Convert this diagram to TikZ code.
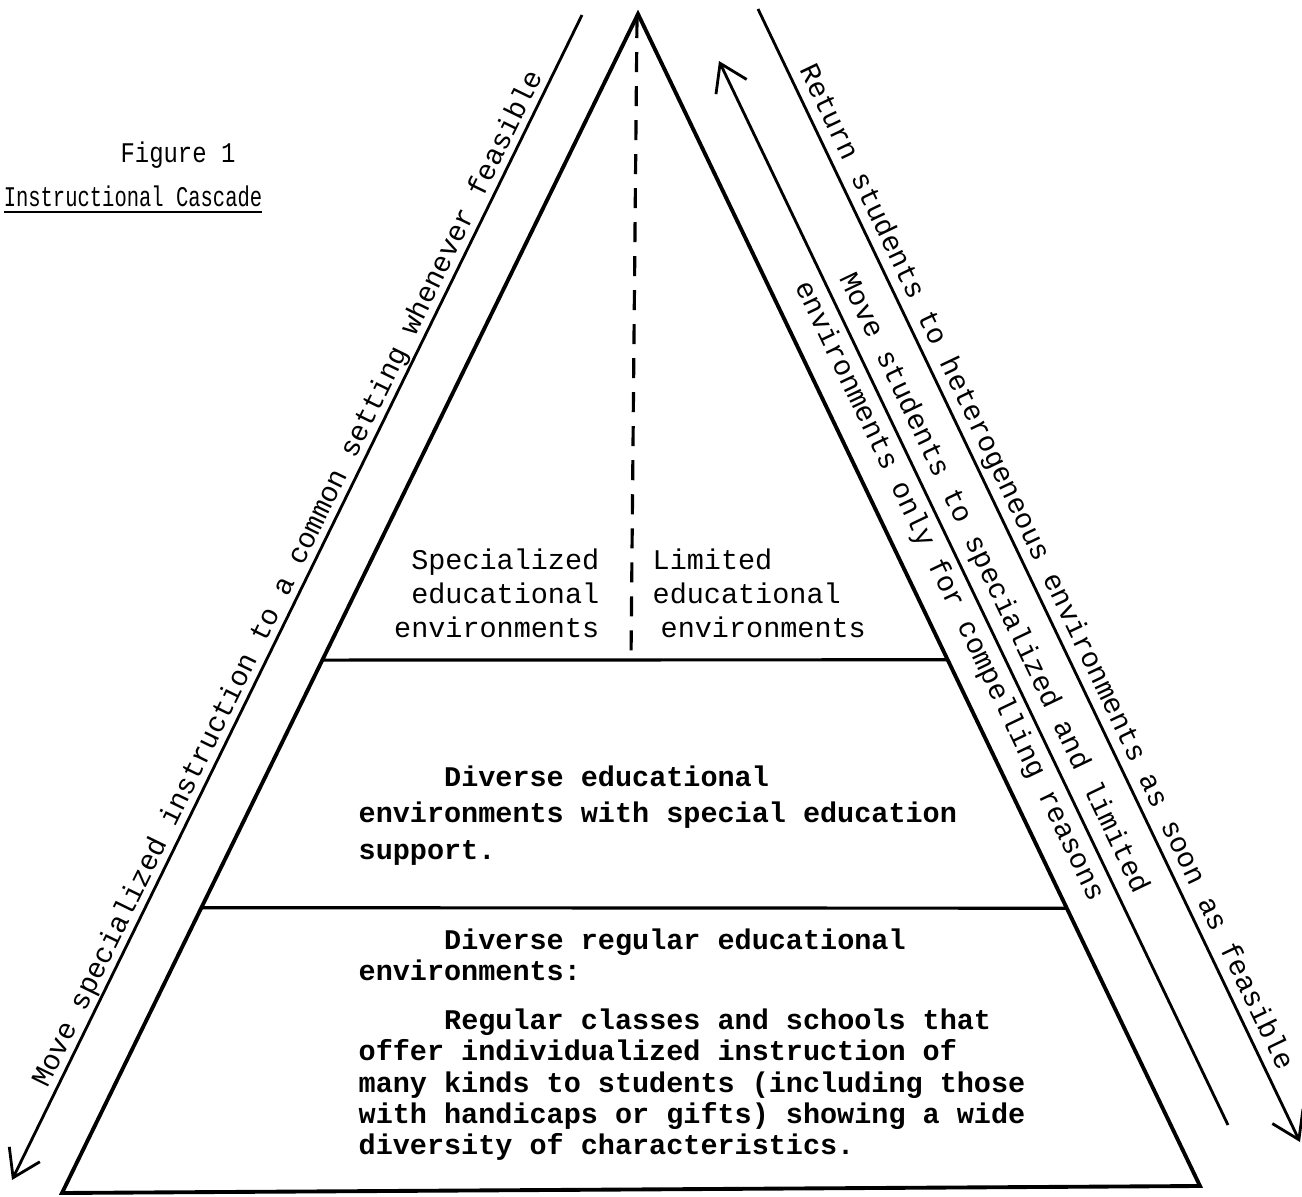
\documentclass[tikz,border=0pt]{standalone}
\usepackage{fontspec}
\setmainfont{Liberation Mono}
\usepackage{graphicx}
\usepackage{tikz}
\usetikzlibrary{positioning}
\usetikzlibrary{arrows.meta}
\usetikzlibrary{calc}

\newcommand{\indentfive}{\hphantom{xxxxx}}

\tikzset{
  side/.style={line width=1.1pt},
  divider/.style={line width=0.9pt},
  flow/.style={line width=0.8pt},
  barbend/.style={-{Straight Barb[length=2.6mm,width=3.4mm,line width=0.8pt]}},
  barbstart/.style={{Straight Barb[length=2.6mm,width=3.4mm,line width=0.8pt]}-},
  slopetext/.style={sloped,pos=0.5,inner sep=2pt,font=\fontsize{8.1}{9.7}\selectfont},
  blocktext/.style={inner sep=0pt}
}

\begin{document}
\begin{tikzpicture}[x=0.01cm,y=-0.01cm]
        \useasboundingbox (0,0) rectangle (1302,1197);

        \coordinate (apex) at (638,14);
        \coordinate (bl) at (62,1193);
        \coordinate (br) at (1200,1186);
        \coordinate (dtop) at (637,18);
        \coordinate (dbot) at (631,660);

        \coordinate (ltop) at (582,15);
        \coordinate (lbot) at (12,1180);
        \coordinate (itop) at (719,61);
        \coordinate (ibot) at (1228,1125);
        \coordinate (otop) at (758,9);
        \coordinate (obot) at (1300,1142);

        \draw[side] (apex) -- (bl) -- (br) -- cycle;
        \draw[divider] ($(apex)!0.548!(bl)$) -- ($(apex)!0.551!(br)$);
        \draw[divider] ($(apex)!0.758!(bl)$) -- ($(apex)!0.763!(br)$);
        \draw[divider,dash pattern=on 2mm off 1.4mm] (dtop) -- (dbot);

        \draw[flow,barbstart] (lbot) -- node[slopetext,above,inner sep=0.3pt,pos=0.51] (common) {Move specialized instruction to a common setting whenever feasible} (ltop);
        \draw[flow,barbstart] (itop) -- node[slopetext,above] (compelling1) {Move students to specialized and limited}
                node[slopetext,below,pos=0.49] (compelling2) {environments only for compelling reasons} (ibot);
        \draw[flow,barbend] (otop) -- node[slopetext,above,inner sep=1pt] (return) {Return students to heterogeneous environments as soon as feasible} (obot);

        \node[font=\fontsize{8.1}{9.7}\selectfont] (figno) at (178,155) {\scalebox{0.84}[1]{Figure 1}};
        \node[font=\fontsize{8.1}{9.7}\selectfont] (figtitle) at (133,200) {\underline{\scalebox{0.72}[1]{Instructional Cascade}}};

        \node[blocktext,anchor=north east,align=right,font=\fontsize{8.1}{9.7}\selectfont] (special) at (600,548) {Specialized\\educational\\environments};
        \node[blocktext,anchor=north west,align=left,font=\fontsize{8.1}{9.7}\selectfont] (limited) at (652,548) {Limited\\educational\\\hspace*{0.08cm}environments};

        \node[blocktext,anchor=north west,align=left,font=\bfseries\fontsize{8.1}{10.4}\selectfont] (diverse) at (358,765) {\indentfive Diverse educational\\environments with special education\\support.};

        \node[blocktext,anchor=north west,align=left,font=\bfseries\fontsize{8.1}{8.9}\selectfont] (regular) at (358,928) {\indentfive Diverse regular educational\\environments:\\[5pt]\indentfive Regular classes and schools that\\offer individualized instruction of\\many kinds to students (including those\\with handicaps or gifts) showing a wide\\diversity of characteristics.};
      \end{tikzpicture}
\end{document}
